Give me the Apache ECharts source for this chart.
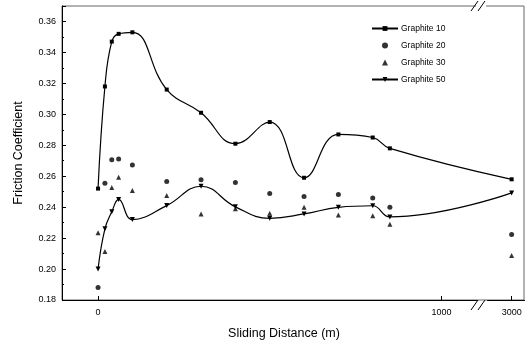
<!DOCTYPE html>
<html><head><meta charset="utf-8">
<script src="https://cdn.jsdelivr.net/npm/echarts@6/dist/echarts.min.js"></script>
<style>html,body{margin:0;padding:0;background:#fff}#c{width:528px;height:345px}</style>
</head><body><div id="c"></div>
<script>
const distances = [0, 20, 40, 60, 100, 200, 300, 400, 500, 600, 700, 800, 850, 3000];
const graphite10 = [0.252, 0.318, 0.347, 0.352, 0.353, 0.316, 0.301, 0.281, 0.295, 0.259, 0.287, 0.285, 0.278, 0.258];
const graphite20 = [0.188, 0.2555, 0.2706, 0.2712, 0.2672, 0.2566, 0.2577, 0.256, 0.2489, 0.2469, 0.2482, 0.2459, 0.2399, 0.2223];
const graphite30 = [0.2235, 0.2113, 0.2527, 0.2593, 0.2508, 0.2476, 0.2356, 0.239, 0.236, 0.2399, 0.2349, 0.2345, 0.229, 0.2087];
const graphite50 = [0.200, 0.226, 0.237, 0.245, 0.232, 0.241, 0.2535, 0.2402, 0.2328, 0.2356, 0.2399, 0.2409, 0.2337, 0.2492];
const xTickValues = [0, 1000, 3000];
const seriesNames = ['Graphite 10', 'Graphite 20', 'Graphite 30', 'Graphite 50'];

const pair = arr => distances.map((d, i) => [d, arr[i]]);
const font = 'Liberation Sans, Arial, sans-serif';
const chart = echarts.init(document.getElementById('c'), null, {renderer: 'canvas'});
chart.setOption({
  animation: false,
  backgroundColor: '#fff',
  grid: {left: 62, right: 4, top: 6, bottom: 39, show: true, borderColor: '#666', borderWidth: 1},
  legend: {
    data: [
      {name: seriesNames[0]},
      {name: seriesNames[1]},
      {name: seriesNames[2], icon: 'path://M0,10 L5,0 L10,10 Z'},
      {name: seriesNames[3]}
    ],
    orient: 'vertical', left: 366, top: 19,
    itemWidth: 26, itemHeight: 6, itemGap: 8, symbolKeepAspect: true,
    textStyle: {fontSize: 8.5, fontFamily: font, color: '#000', padding: [0, 0, 0, -2]}
  },
  xAxis: {
    type: 'value', min: -105, max: 3036,
    breaks: [{start: 1103, end: 2928, gap: '2.2%'}],
    breakArea: {show: false},
    axisLine: {onZero: false, lineStyle: {color: '#000', width: 1}},
    axisTick: {inside: true, length: 4, customValues: xTickValues, lineStyle: {color: '#000'}},
    axisLabel: {customValues: xTickValues, fontSize: 9, fontFamily: font, color: '#000', margin: 8,
      formatter: v => String(v)},
    splitLine: {show: false},
    name: 'Sliding Distance (m)', nameLocation: 'middle', nameGap: 27,
    nameTextStyle: {fontSize: 12.5, fontFamily: font, color: '#000', padding: [0, 18, 0, 0]}
  },
  yAxis: {
    type: 'value', min: 0.18, max: 0.37, interval: 0.02,
    axisLine: {show: true, onZero: false, lineStyle: {color: '#000', width: 1}},
    axisTick: {inside: true, length: 4, lineStyle: {color: '#000'}},
    minorTick: {show: true, splitNumber: 2, length: 2, lineStyle: {color: '#000'}},
    axisLabel: {fontSize: 9, fontFamily: font, color: '#000', margin: 6, showMaxLabel: false,
      formatter: v => v.toFixed(2)},
    splitLine: {show: false},
    name: 'Friction Coefficient', nameLocation: 'middle', nameGap: 37,
    nameTextStyle: {fontSize: 12.5, fontFamily: font, color: '#000'}
  },
  series: [
    {name: seriesNames[0], type: 'line', smooth: 0.45, data: pair(graphite10),
     symbol: 'rect', symbolSize: 4, itemStyle: {color: '#000'}, lineStyle: {color: '#000', width: 1.2}},
    {name: seriesNames[1], type: 'scatter', data: pair(graphite20),
     symbol: 'circle', symbolSize: 5, itemStyle: {color: '#000'}},
    {name: seriesNames[2], type: 'scatter', data: pair(graphite30),
     symbol: 'triangle', symbolSize: 5, itemStyle: {color: '#000'}},
    {name: seriesNames[3], type: 'line', smooth: 0.45, data: pair(graphite50),
     symbol: 'triangle', symbolRotate: 180, symbolSize: 5, itemStyle: {color: '#000'}, lineStyle: {color: '#000', width: 1.2}}
  ],
  graphic: [
    {type: 'rect', shape: {x: 476, y: 3, width: 10, height: 6}, style: {fill: '#fff'}, z: 100},
    {type: 'line', shape: {x1: 471, y1: 11, x2: 478, y2: 1}, style: {stroke: '#000', lineWidth: 1}, z: 101},
    {type: 'line', shape: {x1: 478, y1: 11, x2: 485, y2: 1}, style: {stroke: '#000', lineWidth: 1}, z: 101},
    {type: 'rect', shape: {x: 476, y: 302, width: 10, height: 6}, style: {fill: '#fff'}, z: 100},
    {type: 'line', shape: {x1: 471, y1: 310, x2: 478, y2: 300}, style: {stroke: '#000', lineWidth: 1}, z: 101},
    {type: 'line', shape: {x1: 478, y1: 310, x2: 485, y2: 300}, style: {stroke: '#000', lineWidth: 1}, z: 101}
  ]
});
</script></body></html>
